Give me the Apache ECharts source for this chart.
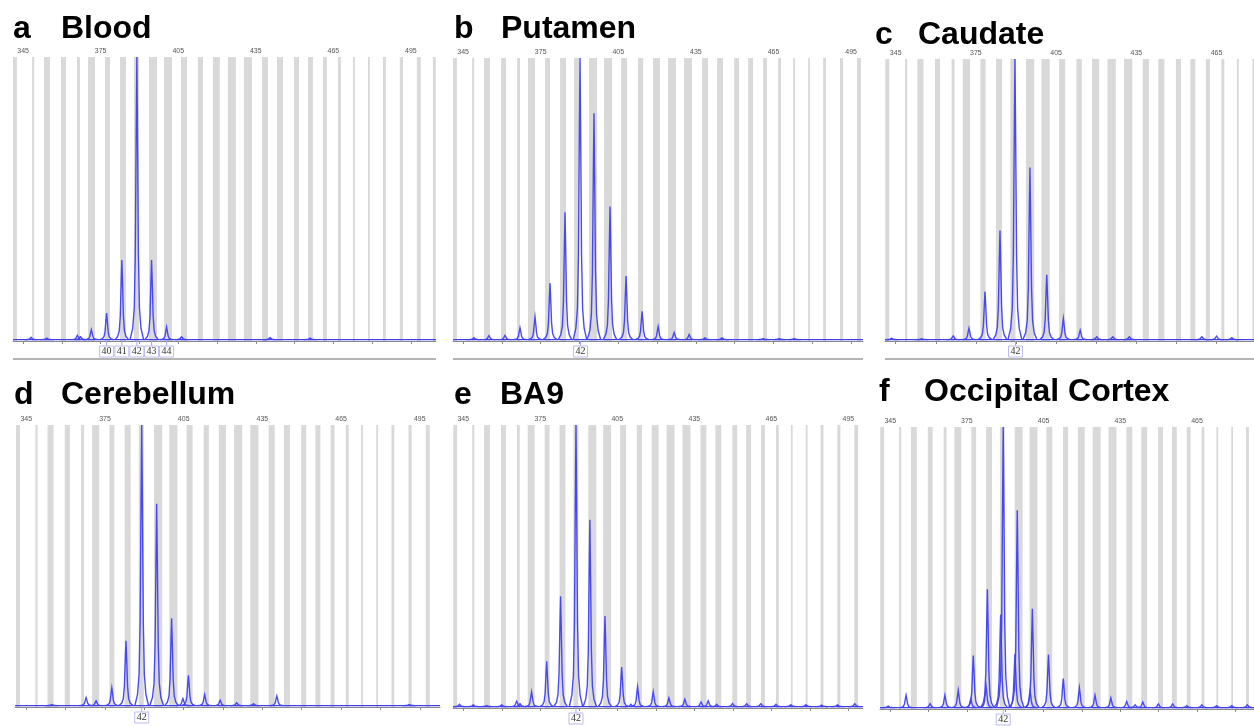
<!DOCTYPE html>
<html><head><meta charset="utf-8">
<script src="https://cdn.jsdelivr.net/npm/echarts@6/dist/echarts.min.js"></script>
<style>html,body{margin:0;padding:0;background:#fff}#c{width:1254px;height:726px}</style>
</head><body><div id="c"></div><script>
// ---- shared bins (bp) ----
const binStart = [341.1, 348.5, 353.1, 359.7, 365.9, 370.1, 376.7, 382.5, 387.9, 393.7, 399.5, 406.1, 412.6, 418.4, 424.2, 430.4, 437.4, 443.2, 449.8, 455.2, 461.0, 466.8, 472.6, 478.4, 484.2, 490.7, 497.3, 503.5];
const binEnd   = [342.6, 349.3, 355.4, 361.6, 367.0, 372.8, 378.6, 384.8, 389.8, 396.8, 402.6, 408.4, 414.6, 421.1, 427.3, 433.5, 439.7, 445.5, 451.7, 457.1, 462.5, 467.9, 473.3, 479.1, 485.3, 491.9, 498.8, 504.6];
const tickLabels = [345, 375, 405, 435, 465, 495];
const minorTicks = [360, 390, 420, 450, 480];

// ---- peaks: position (bp) and height (% of tallest) ----
const bloodPos = [348.1, 354.2, 366.0, 367.2, 371.4, 377.3, 383.2, 389.0, 394.7, 400.5, 406.3, 440.5, 456.0];
const bloodHeight = [0.8, 0.5, 1.5, 1.0, 3.5, 9.3, 28, 100, 28, 4.4, 1.0, 0.7, 0.5];
const bloodLabels = ['40', '41', '42', '43', '44'];
const bloodLabelPos = [377.3, 383.2, 389.0, 394.7, 400.5];

const putamenPos = [349.2, 355.0, 361.2, 367.0, 372.8, 378.6, 384.4, 390.2, 395.6, 401.8, 408.0, 414.2, 420.4, 426.6, 432.4, 438.5, 445.1, 461.0, 467.2, 473.0];
const putamenHeight = [0.7, 1.4, 1.5, 4.2, 8, 20, 45, 100, 80, 47, 22.5, 10, 4.6, 2.5, 1.8, 0.6, 0.6, 0.4, 0.4, 0.4];
const putamenLabels = ['42'];
const putamenLabelPos = [390.4];

const caudatePos = [343.5, 354.7, 366.5, 372.4, 378.4, 384.0, 389.6, 395.2, 401.5, 407.7, 414.0, 420.2, 426.2, 432.4, 459.5, 465.0, 470.7];
const caudateHeight = [0.5, 0.3, 1.3, 4, 17, 38.7, 100, 61, 23, 7.5, 3.3, 1, 1, 1, 1.0, 1.2, 0.7];
const caudateLabels = ['42'];
const caudateLabelPos = [389.8];

const cerebellumPos = [354.7, 367.8, 371.6, 377.6, 383.0, 389.0, 394.7, 400.4, 404.7, 406.8, 413.0, 418.9, 425.2, 431.6, 440.5, 491.0];
const cerebellumHeight = [0.4, 2.8, 1.7, 6.3, 23, 100, 71.6, 31, 2.5, 10.7, 3.9, 1.9, 1, 0.7, 3.4, 0.4];
const cerebellumLabels = ['42'];
const cerebellumLabelPos = [389.0];

const ba9Pos = [343.5, 348.9, 354.1, 360.0, 365.8, 367.1, 371.6, 377.5, 382.9, 388.9, 394.3, 400.2, 406.7, 410.3, 412.9, 419.0, 425.1, 431.3, 437.6, 440.4, 443.7, 449.9, 455.4, 460.9, 466.8, 472.6, 478.5, 484.6, 490.8, 497.5];
const ba9Height = [0.8, 0.6, 0.4, 0.6, 1.9, 1.0, 5.2, 16, 39, 100, 66, 32, 14, 0.8, 7, 5.2, 3.1, 2.6, 1.6, 2.0, 0.8, 1.1, 1.0, 1.0, 0.8, 0.7, 0.7, 0.5, 0.6, 1.0];
const ba9Labels = ['42'];
const ba9LabelPos = [388.9];

const occipitalPos = [344.2, 351.2, 360.6, 366.4, 371.6, 376.5, 377.5, 382.5, 383.0, 388.2, 389.2, 393.8, 394.7, 399.7, 400.6, 406.9, 412.7, 419.0, 425.1, 431.3, 437.5, 440.8, 443.8, 449.9, 455.5, 461.0, 466.9, 472.7, 478.6, 484.7];
const occipitalHeight = [0.5, 4.4, 1.4, 4.4, 6.1, 3, 18.5, 7.5, 42, 33, 100, 19, 70, 6, 35, 18.8, 10.3, 7, 4.4, 3.4, 2.2, 1, 2, 1.3, 1.3, 0.7, 1, 0.7, 0.7, 1];
const occipitalLabels = ['42'];
const occipitalLabelPos = [389.2];

// ---- layout (pixels) ----
const panels = [
  {letter: 'a', name: 'Blood', pos: bloodPos, h: bloodHeight, labels: bloodLabels, labelPos: bloodLabelPos,
   left: 13, width: 423, top: 57, base: 341, min: 341.1, max: 504.7, tx: 13, nx: 61, ty: 13},
  {letter: 'b', name: 'Putamen', pos: putamenPos, h: putamenHeight, labels: putamenLabels, labelPos: putamenLabelPos,
   left: 453, width: 410, top: 58, base: 341, min: 341.1, max: 499.6, tx: 454, nx: 501, ty: 13},
  {letter: 'c', name: 'Caudate', pos: caudatePos, h: caudateHeight, labels: caudateLabels, labelPos: caudateLabelPos,
   left: 885, width: 369, top: 59, base: 341, min: 341.0, max: 479.0, tx: 875, nx: 918, ty: 19},
  {letter: 'd', name: 'Cerebellum', pos: cerebellumPos, h: cerebellumHeight, labels: cerebellumLabels, labelPos: cerebellumLabelPos,
   left: 15, width: 425, top: 425, base: 707, min: 340.7, max: 502.7, tx: 14, nx: 61, ty: 379},
  {letter: 'e', name: 'BA9', pos: ba9Pos, h: ba9Height, labels: ba9Labels, labelPos: ba9LabelPos,
   left: 453, width: 410, top: 425, base: 708, min: 341.0, max: 500.7, tx: 454, nx: 500, ty: 379},
  {letter: 'f', name: 'Occipital Cortex', pos: occipitalPos, h: occipitalHeight, labels: occipitalLabels, labelPos: occipitalLabelPos,
   left: 880, width: 374, top: 427, base: 709, min: 341.0, max: 487.3, tx: 879, nx: 924, ty: 376}
];

const PEAK_SHAPE = [[-2.6, 0], [-1.6, 0.04], [-1.0, 0.11], [-0.6, 0.3], [-0.26, 0.72], [0, 1], [0.26, 0.72], [0.6, 0.3], [1.0, 0.11], [1.6, 0.04], [2.6, 0]];
const BASE = 0.5;
const TRACE = '#4040f2';

const grids = [], xAxes = [], yAxes = [], series = [], graphics = [];
panels.forEach((p, i) => {
  grids.push({left: p.left, width: p.width, top: p.top, height: p.base - p.top, containLabel: false});
  xAxes.push({
    type: 'value', gridIndex: i, position: 'top', min: p.min, max: p.max,
    splitLine: {show: false},
    axisLine: {show: true, lineStyle: {color: '#8a8a8a', width: 1}},
    axisTick: {show: true, inside: true, length: 3, lineStyle: {color: '#8a8a8a'},
      customValues: tickLabels.concat(minorTicks).filter(v => v >= p.min && v <= p.max)},
    axisLabel: {show: true, margin: 2, fontSize: 7, color: '#555', fontFamily: 'Liberation Sans',
      customValues: tickLabels.filter(v => v >= p.min && v <= p.max)}
  });
  yAxes.push({type: 'value', gridIndex: i, min: 0, max: 100, show: false});

  // bins
  series.push({
    type: 'custom', xAxisIndex: i, yAxisIndex: i, silent: true, clip: true, z: 1,
    data: binStart.map((s, k) => [s, binEnd[k]]),
    renderItem: (params, api) => {
      const a = api.coord([api.value(0), 100]);
      const b = api.coord([api.value(1), 0]);
      return {type: 'rect', shape: {x: a[0], y: a[1], width: b[0] - a[0], height: b[1] - a[1]}, style: {fill: '#d9d9d9'}};
    }
  });
  // baseline trace
  series.push({
    type: 'line', xAxisIndex: i, yAxisIndex: i, silent: true, symbol: 'none', z: 3,
    data: [[p.min, BASE], [p.max, BASE]], lineStyle: {color: TRACE, width: 1.3}
  });
  // peaks
  series.push({
    type: 'custom', xAxisIndex: i, yAxisIndex: i, silent: true, clip: true, z: 4,
    data: p.pos.map((x, k) => [x, p.h[k]]),
    renderItem: (params, api) => {
      const x = api.value(0), h = api.value(1);
      const pts = PEAK_SHAPE.map(([dx, f]) => api.coord([x + dx, BASE + h * f]));
      return {type: 'polyline', shape: {points: pts}, style: {stroke: TRACE, lineWidth: 1.4, fill: null, opacity: 0.95}};
    }
  });
  // allele labels
  series.push({
    type: 'custom', xAxisIndex: i, yAxisIndex: i, silent: true, clip: false, z: 5,
    data: p.labelPos.map((x, k) => [x, k]),
    renderItem: (params, api) => {
      const c = api.coord([api.value(0), 0]);
      const txt = p.labels[params.dataIndex];
      return {type: 'group', children: [
        {type: 'line', shape: {x1: c[0], y1: c[1], x2: c[0], y2: c[1] + 5}, style: {stroke: '#a8a8ee', lineWidth: 1}},
        {type: 'rect', shape: {x: c[0] - 7, y: c[1] + 5, width: 14, height: 11}, style: {fill: '#fff', stroke: '#bcbcf0', lineWidth: 1}},
        {type: 'text', style: {x: c[0], y: c[1] + 10.8, text: txt, align: 'center', verticalAlign: 'middle',
          font: '10px "Liberation Serif"', fill: '#333'}}
      ]};
    }
  });

  graphics.push({type: 'text', left: p.tx, top: p.ty, style: {text: p.letter, font: 'bold 32px "Liberation Sans"', fill: '#000'}});
  graphics.push({type: 'text', left: p.nx, top: p.ty, style: {text: p.name, font: 'bold 32px "Liberation Sans"', fill: '#000'}});
  if (i < 3) {
    graphics.push({type: 'line', shape: {x1: p.left, y1: 359, x2: p.left + p.width, y2: 359}, style: {stroke: '#b4b4b4', lineWidth: 2}});
  }
});

const chart = echarts.init(document.getElementById('c'), null, {renderer: 'canvas'});
chart.setOption({
  animation: false,
  backgroundColor: '#fff',
  grid: grids, xAxis: xAxes, yAxis: yAxes, series: series, graphic: graphics
});
</script></body></html>
